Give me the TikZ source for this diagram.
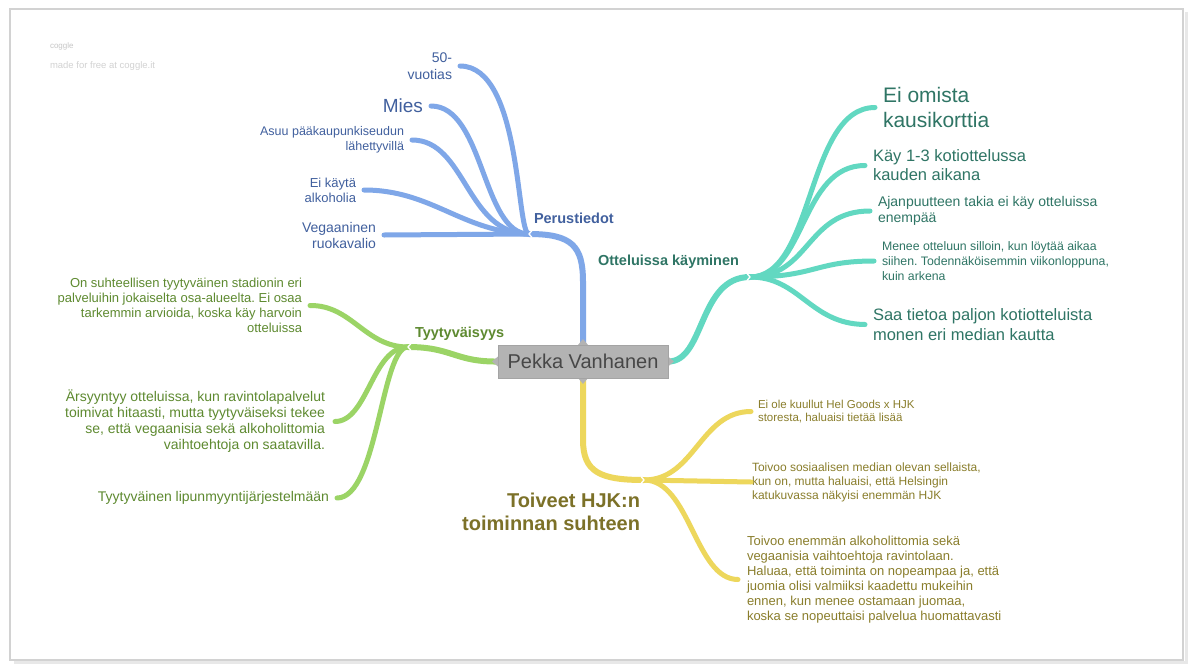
\documentclass[tikz,border=0pt]{standalone}
\usepackage{fontspec}
\setmainfont{Liberation Sans}
\frenchspacing
\newcommand{\fsz}[2]{\fontsize{#1}{#2}\selectfont}
\definecolor{bline}{HTML}{7FA7E8}
\definecolor{btext}{HTML}{41609E}
\definecolor{tline}{HTML}{62D8C1}
\definecolor{ttext}{HTML}{2F7565}
\definecolor{gline}{HTML}{9BD466}
\definecolor{gtext}{HTML}{5E8A30}
\definecolor{yline}{HTML}{EDD75C}
\definecolor{ytext}{HTML}{8A7E2C}
\definecolor{boxgray}{HTML}{B3B3B3}
\definecolor{boxedge}{HTML}{A4A4A4}
\definecolor{ctext}{HTML}{474747}
\begin{document}
\begin{tikzpicture}[x=1pt,y=-1pt,
  branch/.style={line width=5pt, line cap=round},
  trunk/.style={line width=6pt, line cap=round},
  lbl/.style={inner sep=0pt, outer sep=0pt},
  R/.style={lbl, anchor=east, align=right},
  L/.style={lbl, anchor=west, align=left},
  notch/.style={white, line width=1.3pt}]
\useasboundingbox (0,0) rectangle (1190,664);
\fill[white] (0,0) rectangle (1190,664);
% page frame with shadow
\draw[gray!18, line width=3pt] (14,662) -- (1186,662) -- (1186,12);
\draw[gray!35, line width=1.5pt] (10,9) rectangle (1183,660);

% watermark
\node[L, text=gray!45, font=\fsz{8}{10}] (logo) at (50,46) {coggle};
\node[L, text=gray!35, font=\fsz{9.5}{11}] (wm) at (50,66) {made for free at coggle.it};

% ---------- centre ----------
\node[lbl, draw=boxedge, fill=boxgray, minimum width=170pt, minimum height=33pt,
      text=ctext, font=\fsz{20}{24}] (c) at (583,361.5) {Pekka Vanhanen};

% ---------- blue: Perustiedot ----------
\node[R, text=btext, font=\fsz{14}{17}] (n50) at (452,66) {50-\\vuotias};
\node[R, text=btext, font=\fsz{19}{22}] (mies) at (423,106) {Mies};
\node[R, text=btext, font=\fsz{12.5}{15}] (asuu) at (404,140) {Asuu pääkaupunkiseudun\\lähettyvillä};
\node[R, text=btext, font=\fsz{13}{15}] (eika) at (356,190) {Ei käytä\\alkoholia};
\node[R, text=btext, font=\fsz{14}{16}] (vega) at (376,235) {Vegaaninen\\ruokavalio};
\node[L, text=btext, font=\fsz{14.5}{17}\bfseries] (perus) at (534,218) {Perustiedot};
\coordinate (hb) at (529,234);

% ---------- teal: Otteluissa käyminen ----------
\node[L, text=ttext, font=\fsz{21}{25}] (eio) at (883,107.5) {Ei omista\\kausikorttia};
\node[L, text=ttext, font=\fsz{16.5}{19}] (kay) at (873,165.5) {Käy 1-3 kotiottelussa\\kauden aikana};
\node[L, text=ttext, font=\fsz{14}{16}] (ajan) at (878,211) {Ajanpuutteen takia ei käy otteluissa\\enempää};
\node[L, text=ttext, font=\fsz{12.3}{15}] (menee) at (882,261) {Menee otteluun silloin, kun löytää aikaa\\siihen. Todennäköisemmin viikonloppuna,\\kuin arkena};
\node[L, text=ttext, font=\fsz{16.5}{19.5}] (saa) at (873,324.5) {Saa tietoa paljon kotiotteluista\\monen eri median kautta};
\node[L, text=ttext, font=\fsz{14.5}{17}\bfseries] (ottel) at (598,262) {Otteluissa käyminen};
\coordinate (ht) at (750,277);

% ---------- green: Tyytyväisyys ----------
\node[R, text=gtext, font=\fsz{13}{15}] (onsu) at (302,305.5) {On suhteellisen tyytyväinen stadionin eri\\palveluihin jokaiselta osa-alueelta. Ei osaa\\tarkemmin arvioida, koska käy harvoin\\otteluissa};
\node[R, text=gtext, font=\fsz{14}{16}] (arsy) at (325,421.5) {Ärsyyntyy otteluissa, kun ravintolapalvelut\\toimivat hitaasti, mutta tyytyväiseksi tekee\\se, että vegaanisia sekä alkoholittomia\\vaihtoehtoja on saatavilla.};
\node[R, text=gtext, font=\fsz{14}{16}] (lipu) at (329,498) {Tyytyväinen lipunmyyntijärjestelmään};
\node[L, text=gtext, font=\fsz{14.5}{17}\bfseries] (tyyt) at (415,334) {Tyytyväisyys};
\coordinate (hg) at (408,347);

% ---------- yellow: Toiveet ----------
\node[L, text=ytext, font=\fsz{11.5}{13.5}] (hel) at (758,411.5) {Ei ole kuullut Hel Goods x HJK\\storesta, haluaisi tietää lisää};
\node[L, text=ytext, font=\fsz{12}{14}] (some) at (752,482) {Toivoo sosiaalisen median olevan sellaista,\\kun on, mutta haluaisi, että Helsingin\\katukuvassa näkyisi enemmän HJK};
\node[L, text=ytext, font=\fsz{13}{15}] (enem) at (747,579.5) {Toivoo enemmän alkoholittomia sekä\\vegaanisia vaihtoehtoja ravintolaan.\\Haluaa, että toiminta on nopeampaa ja, että\\juomia olisi valmiiksi kaadettu mukeihin\\ennen, kun menee ostamaan juomaa,\\koska se nopeuttaisi palvelua huomattavasti};
\node[R, text=ytext!90!black, font=\fsz{20}{23}\bfseries] (toiv) at (640,511.5) {Toiveet HJK:n\\toiminnan suhteen};
\coordinate (hy) at (644,480);

% ---------- connectors ----------
% blue
\draw[trunk, bline] (c.north) -- (583,282) .. controls (583,246) and (572,234) .. (hb);
\draw[branch, bline] ([xshift=8pt]n50.east) .. controls (522,66) and (516,234) .. (hb);
\draw[branch, bline] ([xshift=8pt]mies.east) .. controls (484,106) and (482,234) .. (hb);
\draw[branch, bline] ([xshift=8pt]asuu.east) .. controls (466,140) and (466,234) .. (hb);
\draw[branch, bline] ([xshift=8pt]eika.east) .. controls (432,190) and (462,232) .. (hb);
\draw[branch, bline] ([xshift=8pt]vega.east) -- (hb);
% teal
\draw[trunk, tline] (c.east) .. controls (705,362) and (698,277) .. (ht);
\draw[branch, tline] (ht) .. controls (815,277) and (806,107.5) .. ([xshift=-8pt]eio.west);
\draw[branch, tline] (ht) .. controls (806,277) and (800,165.5) .. ([xshift=-8pt]kay.west);
\draw[branch, tline] (ht) .. controls (810,277) and (806,211) .. ([xshift=-8pt]ajan.west);
\draw[branch, tline] (ht) .. controls (815,277) and (815,261) .. ([xshift=-8pt]menee.west);
\draw[branch, tline] (ht) .. controls (800,277) and (810,324) .. ([xshift=-8pt]saa.west);
% green
\draw[trunk, gline] (c.west) .. controls (455,362) and (452,347) .. (hg);
\draw[branch, gline] ([xshift=8pt]onsu.east) .. controls (352,305) and (365,347) .. (hg);
\draw[branch, gline] ([xshift=10pt]arsy.east) .. controls (368,421.5) and (372,347) .. (hg);
\draw[branch, gline] ([xshift=8pt]lipu.east) .. controls (378,498) and (381,347) .. (hg);
% yellow
\draw[trunk, yline] (c.south) -- (583,440) .. controls (583,472) and (600,480) .. (hy);
\draw[branch, yline] (hy) .. controls (695,480) and (700,411.5) .. ([xshift=-7pt]hel.west);
\draw[branch, yline] (hy) -- ([xshift=-1pt]some.west);
\draw[branch, yline] (hy) .. controls (690,480) and (695,579.5) .. ([xshift=-9pt]enem.west);

% centre box redrawn on top with its small pointers
\fill[boxgray] (c.west) ++(0,-5) -- ++(-6,5) -- ++(6,5) -- cycle;
\fill[boxgray] (c.east) ++(0,-5) -- ++(6,5) -- ++(-6,5) -- cycle;
\fill[boxgray] (c.north) ++(-5,0) -- ++(5,-6) -- ++(5,6) -- cycle;
\fill[boxgray] (c.south) ++(-5,0) -- ++(5,6) -- ++(5,-6) -- cycle;
\node[lbl, draw=boxedge, fill=boxgray, minimum width=170pt, minimum height=33pt,
      text=ctext, font=\fsz{20}{24}] (c2) at (c) {Pekka Vanhanen};

% notches at the hubs
\draw[notch] ([shift={(3,-3.5)}]hb) -- (hb) -- ([shift={(3,3.5)}]hb);
\draw[notch] ([shift={(-3,-3.5)}]ht) -- (ht) -- ([shift={(-3,3.5)}]ht);
\draw[notch] ([shift={(3,-3.5)}]hg) -- (hg) -- ([shift={(3,3.5)}]hg);
\draw[notch] ([shift={(-3,-3.5)}]hy) -- (hy) -- ([shift={(-3,3.5)}]hy);
\end{tikzpicture}
\end{document}
